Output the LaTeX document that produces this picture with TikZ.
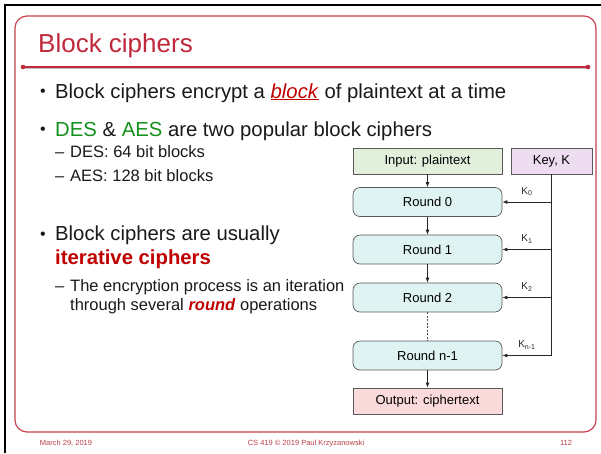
\documentclass[tikz,border=0pt]{standalone}
\usepackage{fontspec}
\setmainfont{Liberation Sans}
\usetikzlibrary{calc}
\usetikzlibrary{arrows.meta}
\definecolor{titlered}{HTML}{C0283C}
\definecolor{framered}{HTML}{C8404E}
\definecolor{accent}{HTML}{C00000}
\definecolor{desgreen}{HTML}{12901A}
\definecolor{footred}{HTML}{B8404A}
\definecolor{inputfill}{HTML}{E2EFDA}
\definecolor{keyfill}{HTML}{EEDDF1}
\definecolor{roundfill}{HTML}{DFF3F3}
\definecolor{outfill}{HTML}{FADADB}
\tikzset{
	txt/.style={anchor=base west, inner sep=0pt, text=black!90},
	big/.style={txt, font=\fontsize{20.3}{24}\selectfont},
	small/.style={txt, font=\fontsize{16.5}{20}\selectfont},
	dot/.style={txt, font=\fontsize{16}{18}\selectfont},
	foot/.style={anchor=base, inner sep=0pt, text=footred, font=\fontsize{7.5}{9}\selectfont},
	box/.style={draw=black!65, line width=.7pt, minimum width=149pt, minimum height=26pt, inner sep=0pt, font=\fontsize{13}{15}\selectfont},
	rbox/.style={box, rounded corners=7pt, fill=roundfill, minimum height=29pt},
	klabel/.style={inner sep=0pt, font=\fontsize{10}{12}\selectfont},
	arr/.style={-{Latex[length=5pt,width=4pt]}, black!85, line width=.8pt},
}
\begin{document}
\begin{tikzpicture}[x=1pt,y=-1pt]
		\useasboundingbox (0,0) rectangle (601,453);
		% slide frame
		\draw[line width=2.5pt] (5,453) -- (5,5) -- (601,5);
		\draw[framered, line width=1.2pt, rounded corners=12pt] (15,16) rectangle (596,432);
		\node[txt, text=titlered, font=\fontsize{26}{30}\selectfont] (title) at (38,52) {Block ciphers};
		\coordinate (tl) at (23,67);
		\coordinate (tr) at (588,67);
		\draw[black!25, line width=1.5pt] ($ (tl) + (1,1.5) $) -- ($ (tr) + (1,1.5) $);
		\draw[titlered, line width=1.5pt] (tl) -- (tr);
		\fill[titlered] (tl) circle (2.3pt) (tr) circle (2.3pt);
		% bullets
		\node[dot] (b1) at (40,96.5) {\textbullet};
		\node[big] (t1) at (55,98) {Block ciphers encrypt a \textcolor{accent}{\underline{\textit{block}}} of plaintext at a time};
		\node[dot] (b2) at (40,134.5) {\textbullet};
		\node[big] (t2) at (55,136) {\textcolor{desgreen}{DES} \& \textcolor{desgreen}{AES} are two popular block ciphers};
		\node[small] (d1) at (55,157) {--};
		\node[small] (s1) at (70,157) {DES: 64 bit blocks};
		\node[small] (d2) at (55,181) {--};
		\node[small] (s2) at (70,181) {AES: 128 bit blocks};
		\node[dot] (b3) at (40,239) {\textbullet};
		\node[big] (t3) at (55,240.5) {Block ciphers are usually};
		\node[big, text=accent, font=\fontsize{20.3}{24}\selectfont\bfseries] (t4) at (55,264) {iterative ciphers};
		\node[small] (d3) at (55,291) {--};
		\node[small] (s3) at (70,291) {The encryption process is an iteration};
		\node[small] (s4) at (70,310) {through several \textcolor{accent}{\textbf{\textit{round}}} operations};
		% rounds
		\node[box, fill=inputfill] (input) at (427.5,161) {Input: plaintext};
		\node[box, fill=keyfill, minimum width=81pt] (key) at (551.5,161) {Key, K};
		\node[rbox] (r0) at (427.5,202) {Round 0};
		\node[rbox] (r1) at (427.5,249.5) {Round 1};
		\node[rbox] (r2) at (427.5,297.5) {Round 2};
		\node[rbox] (rn) at (427.5,355.5) {Round n-1};
		\node[box, fill=outfill] (output) at (427.5,401) {Output: ciphertext};
		\draw[arr] (input) -- (r0);
		\draw[arr] (r0) -- (r1);
		\draw[arr] (r1) -- (r2);
		\draw[black!70, line width=.6pt, dash pattern=on 2pt off 1.5pt] (r2) -- (rn);
		\draw[arr] (rn) -- (output);
		% key schedule
		\coordinate (k0) at (key.south |- r0.east);
		\coordinate (k1) at (key.south |- r1.east);
		\coordinate (k2) at (key.south |- r2.east);
		\coordinate (kn) at (key.south |- rn.east);
		\draw[black!85, line width=.8pt] (key) -- (kn);
		\draw[arr] (k0) -- (r0) node[klabel, midway, above=6pt] {K\textsubscript{0}};
		\draw[arr] (k1) -- (r1) node[klabel, midway, above=6pt] {K\textsubscript{1}};
		\draw[arr] (k2) -- (r2) node[klabel, midway, above=6pt] {K\textsubscript{2}};
		\draw[arr] (kn) -- (rn) node[klabel, midway, above=6pt] {K\textsubscript{n-1}};
		% footer
		\node[foot] (date) at (66,445) {March 29, 2019};
		\node[foot] (course) at (306,445) {CS 419 © 2019 Paul Krzyzanowski};
		\node[foot] (page) at (566,445) {112};
	\end{tikzpicture}
\end{document}
